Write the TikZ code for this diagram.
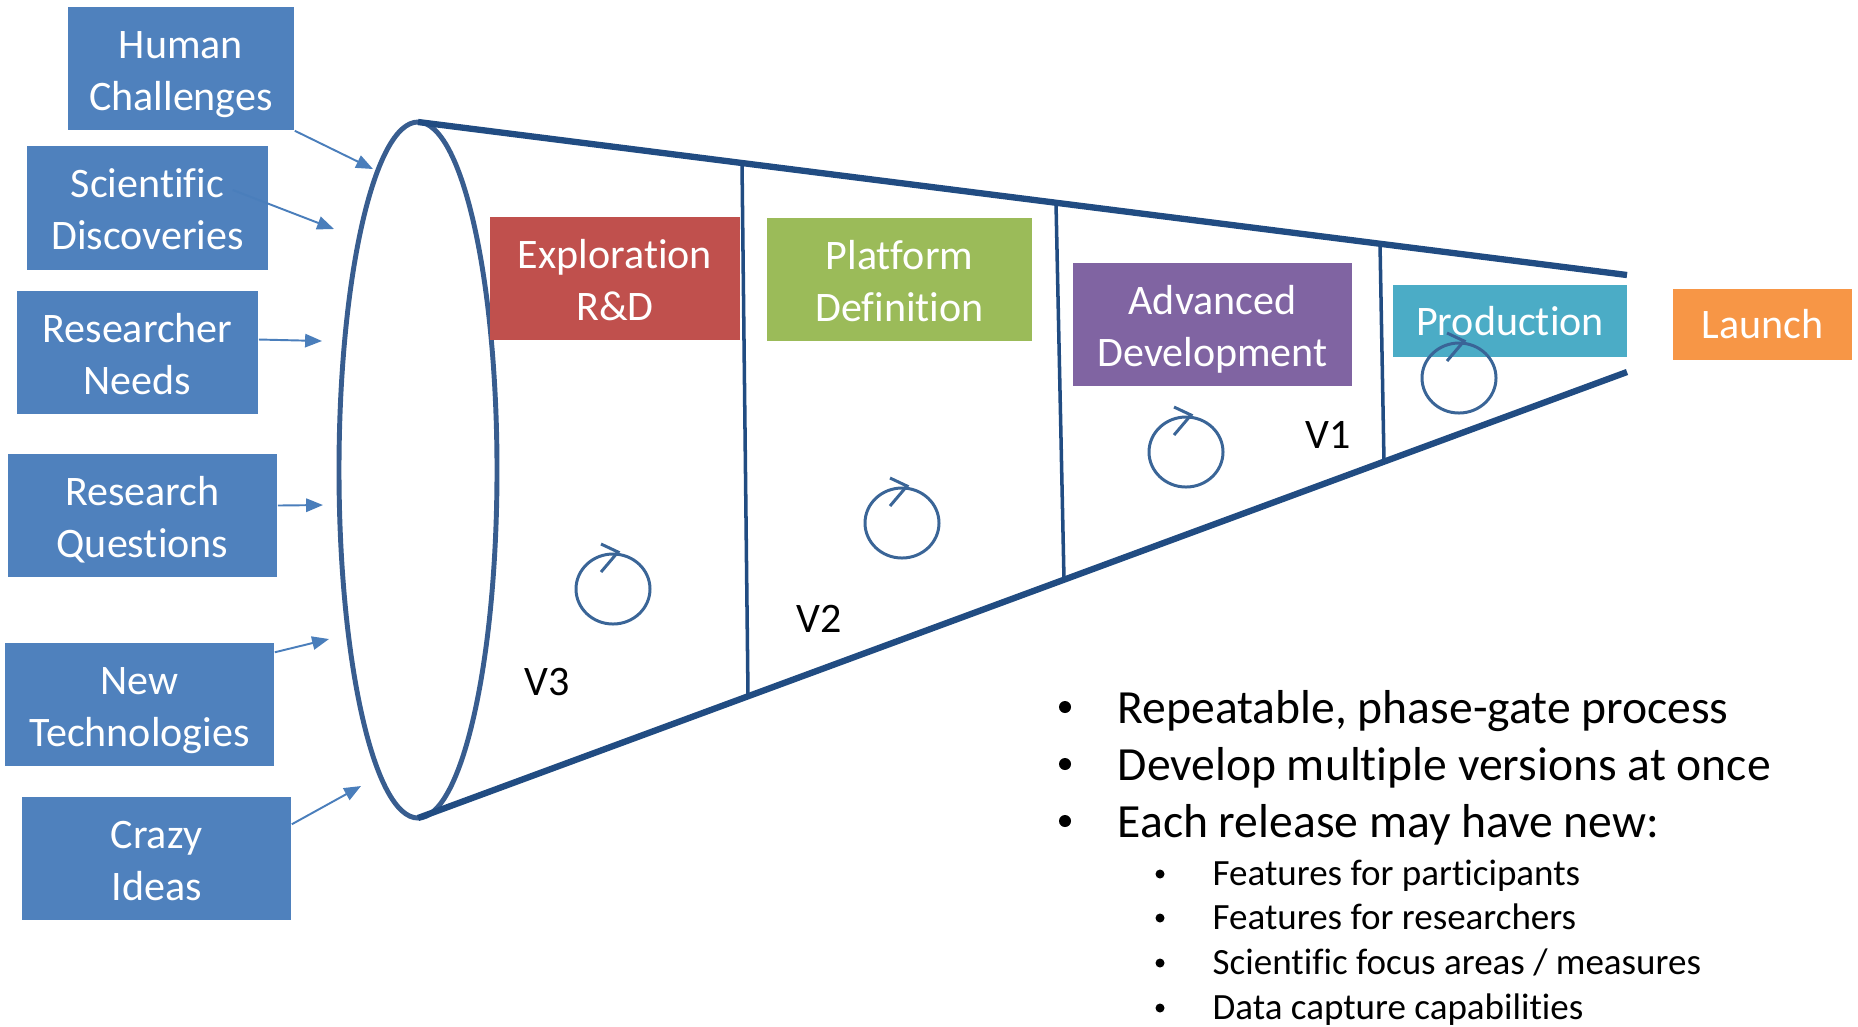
\documentclass[tikz,border=0pt]{standalone}
\usepackage{fontspec}
\setmainfont{Carlito}[Ligatures=CommonOff]
\usetikzlibrary{arrows.meta, calc, positioning}

\definecolor{ideablue}{HTML}{4F81BD}
\definecolor{feedblue}{HTML}{4A7EBB}
\definecolor{funnelblue}{RGB}{33,76,130}
\definecolor{rimblue}{RGB}{56,93,143}
\definecolor{loopblue}{HTML}{3A6597}
\definecolor{explred}{HTML}{C0504D}
\definecolor{platgreen}{HTML}{9BBB59}
\definecolor{advpurple}{HTML}{8064A2}
\definecolor{prodaqua}{HTML}{4BACC6}
\definecolor{launchorange}{HTML}{F79646}

\tikzset{
  box/.style={fill=#1, text=white, inner sep=0pt, align=center,
    font=\fontsize{11.95}{14.8}\selectfont},
  twoline/.style={execute at begin node={\rule{0pt}{26.6pt}},
    execute at end node={\rule[-2.8pt]{0pt}{2.8pt}}},
  idea/.style={box=ideablue, twoline, minimum height=1.23cm},
  feed/.style={feedblue, line width=0.55pt, -{Triangle[length=4.8pt,width=3.8pt]}},
  loopline/.style={loopblue, line width=0.85pt},
  pics/turnloop/.style={code={
    \draw[loopline] (0,0) circle [x radius=37, y radius=35];
    \draw[loopline] (-12,-17) -- (5,-37) -- (-12,-45);
  }},
  vlabel/.style={font=\fontsize{11.95}{14.8}\selectfont},
  mainpt/.style={anchor=base west, inner sep=0pt, font=\fontsize{13.54}{16}\selectfont},
  subpt/.style={anchor=base west, inner sep=0pt, font=\fontsize{10.53}{13}\selectfont},
  dot/.style={circle, fill=black, inner sep=0pt, minimum size=#1},
}

\begin{document}
\begin{tikzpicture}[x=0.01cm, y=-0.01cm]
  \useasboundingbox (0,0) rectangle (1858,1026);

  % Funnel
  \coordinate (ftop) at (418,122);
  \coordinate (fbot) at (418,818);
  \coordinate (etop) at (1627,275);
  \coordinate (ebot) at (1627,372);
  \draw[rimblue, line width=1.4pt] (418,470) circle [x radius=79, y radius=348];
  \draw[funnelblue, line width=1.8pt] (ftop) -- (etop);
  \draw[funnelblue, line width=1.8pt] (fbot) -- (ebot);
  % Phase gates
  \draw[funnelblue, line width=1pt] (742,163) -- (748,696);
  \draw[funnelblue, line width=1pt] (1056,203) -- (1064,580);
  \draw[funnelblue, line width=1pt] (1380,244) -- (1384,462);

  % Inputs
  \node[idea, minimum width=2.26cm] (hc) at (181,68.5) {Human\\Challenges};
  \node[idea, minimum width=2.41cm] (sd) at (147.5,208) {Scientific\\Discoveries};
  \node[idea, minimum width=2.41cm] (rn) at (137.5,352.5) {Researcher\\Needs};
  \node[idea, minimum width=2.69cm] (rq) at (142.5,515.5) {Research\\Questions};
  \node[idea, minimum width=2.69cm] (nt) at (139.5,704.5) {New\\Technologies};
  \node[idea, minimum width=2.69cm] (ci) at (156.5,858.5) {Crazy\\Ideas};

  \coordinate (hcin) at (373,169);
  \coordinate (sdin) at (334,229);
  \coordinate (rnin) at (322,341);
  \coordinate (rqin) at (323,505);
  \coordinate (ntin) at (329,639);
  \coordinate (ciin) at (361,786);
  \draw[feed] (hc.south east) -- (hcin);
  \draw[feed] ($(sd.east)+(-36,-18)$) -- (sdin);
  \draw[feed] ($(rn.east)+(0,-13)$) -- (rnin);
  \draw[feed] ($(rq.east)+(0,-10)$) -- (rqin);
  \draw[feed] ($(nt.north east)+(0,10)$) -- (ntin);
  \draw[feed] ($(ci.north east)+(0,28)$) -- (ciin);

  % Phases
  \node[box=explred, twoline, minimum width=2.50cm, minimum height=1.23cm] (ex) at (615,278.5) {Exploration\\R\&D};
  \node[box=platgreen, twoline, minimum width=2.65cm, minimum height=1.23cm] (pd) at (899.5,279.5) {Platform\\Definition};
  \node[box=advpurple, twoline, minimum width=2.79cm, minimum height=1.23cm] (ad) at (1212.5,324.5) {Advanced\\Development};
  \node[box=prodaqua, minimum width=2.34cm, minimum height=0.72cm] (pr) at (1510,321) {Production};
  \node[box=launchorange, minimum width=1.79cm, minimum height=0.71cm] (la) at (1762.5,324.5) {Launch};

  % Iterations
  \pic at (613,589) {turnloop};
  \pic at (902,523) {turnloop};
  \pic at (1186,452) {turnloop};
  \pic at (1459,378) {turnloop};
  \node[vlabel] (v3) at (547,682) {V3};
  \node[vlabel] (v2) at (819,619) {V2};
  \node[vlabel] (v1) at (1328,435) {V1};

  % Notes
  \node[mainpt] (n1) at (1117,723) {Repeatable, phase-gate process};
  \node[mainpt] (n2) at (1117,780) {Develop multiple versions at once};
  \node[mainpt] (n3) at (1117,837) {Each release may have new:};
  \node[subpt] (s1) at (1212,885) {Features for participants};
  \node[subpt] (s2) at (1212,929) {Features for researchers};
  \node[subpt] (s3) at (1212,974) {Scientific focus areas / measures};
  \node[subpt] (s4) at (1212,1019) {Data capture capabilities};
  \foreach \n in {n1,n2,n3}
    \node[dot=0.12cm] at ($(\n.base west)+(-52,-16)$) {};
  \foreach \n in {s1,s2,s3,s4}
    \node[dot=0.09cm] at ($(\n.base west)+(-52,-11)$) {};
\end{tikzpicture}
\end{document}
